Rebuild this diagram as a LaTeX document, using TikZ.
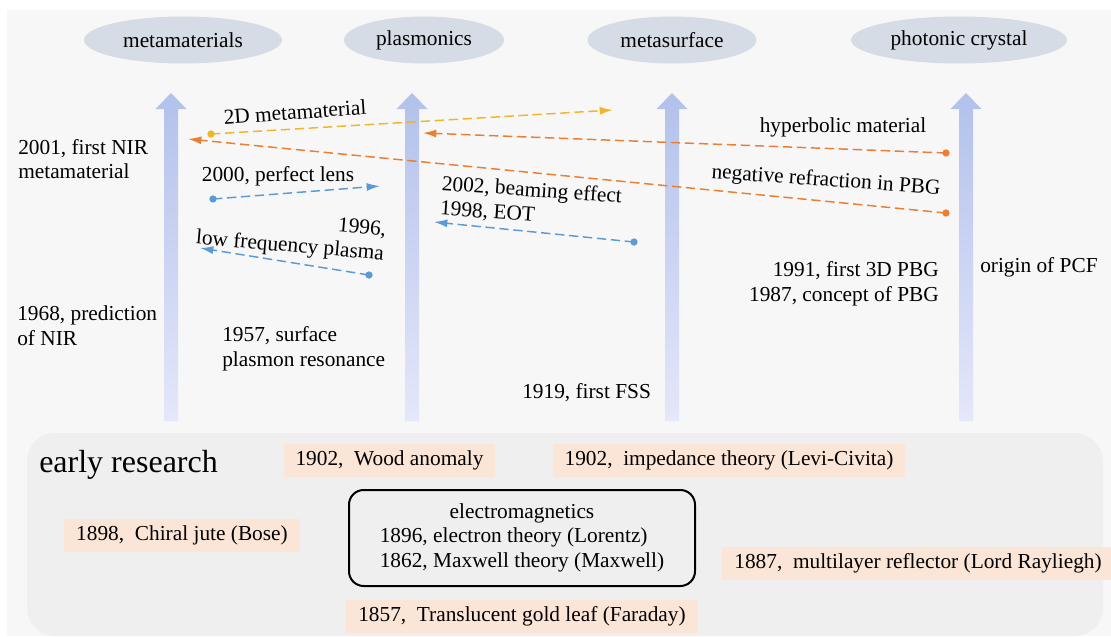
\documentclass[tikz,border=0pt]{standalone}
\usepackage{fontspec}
\setmainfont{Liberation Serif}
\usepackage{tikz}
\usetikzlibrary{positioning}
\usetikzlibrary{arrows.meta}
\usetikzlibrary{shapes.geometric}

\definecolor{bgout}{RGB}{247,247,247}
\definecolor{panelbg}{RGB}{239,239,239}
\definecolor{fieldbg}{RGB}{214,220,229}
\definecolor{peach}{RGB}{251,229,214}
\definecolor{axtop}{RGB}{178,193,235}
\definecolor{axbot}{RGB}{229,231,250}
\definecolor{cgold}{RGB}{242,180,40}
\definecolor{corange}{RGB}{237,125,49}
\definecolor{cblue}{RGB}{91,155,213}

\begin{document}
\begin{tikzpicture}[x=0.75pt,y=-0.75pt]
\tikzstyle{every node}=[font=\fontsize{16}{18.5}\selectfont]
\tikzstyle{field}=[ellipse, fill=fieldbg, inner sep=0pt, minimum height=35.25pt]
\tikzstyle{event}=[inner sep=0pt, align=left]
\tikzstyle{early}=[fill=peach, inner xsep=9pt, inner ysep=0pt, minimum height=24.75pt]
\tikzstyle{dot}=[circle, inner sep=0pt, minimum size=5.5pt]
\tikzstyle{linkarr}=[dash pattern=on 7pt off 3.5pt, line width=1.1pt, -{Latex[length=10pt,width=6pt]}]
\useasboundingbox (0,0) rectangle (1111,636);
\fill[bgout] (7,10) rectangle (1111,636);
\fill[panelbg, rounded corners=21pt] (27,433) rectangle (1103,636);

% research fields
\node[field, minimum width=148.5pt] (metamat) at (183,40) {metamaterials};
\node[field, minimum width=120pt] (plasmon) at (424,40) {plasmonics};
\node[field, minimum width=126.75pt] (metasurf) at (672,40) {metasurface};
\node[field, minimum width=162pt] (phc) at (959,40) {photonic crystal};

% time axes
\foreach \ax in {171,412,672,966} {
  \shade[top color=axtop, bottom color=axbot] (\ax-7,421) -- (\ax-7,109) -- (\ax-15.5,109) -- (\ax,93)
    -- (\ax+15.5,109) -- (\ax+7,109) -- (\ax+7,421) -- cycle;
}

% events
\node[event, anchor=west] (nir01) at (18,159) {2001, first NIR\\metamaterial};
\node[event, anchor=west] (nir68) at (17,326) {1968, prediction\\of NIR};
\node[event, anchor=west] (spr) at (222,349) {1957, surface\\plasmon resonance};
\node[event, anchor=west] (fss) at (522,393) {1919, first FSS};
\node[event, anchor=east, align=right] (pbg) at (939,284) {1991, first 3D PBG\\1987, concept of PBG};
\node[event, anchor=west] (pcf) at (980,267) {origin of PCF};

% links between fields
\node[dot, fill=cgold] (s2d) at (211,134) {};
\coordinate (e2d) at (613,110);
\draw[linkarr, cgold] (s2d.center) -- (e2d);
\node[event, rotate=4] (l2d) at (295,112) {2D metamaterial};

\node[dot, fill=corange] (shyp) at (946,153) {};
\coordinate (ehyp) at (423,133);
\draw[linkarr, corange] (shyp.center) -- (ehyp);
\node[event] (lhyp) at (843,127) {hyperbolic material};

\node[dot, fill=corange] (sneg) at (946,213) {};
\coordinate (eneg) at (188,139);
\draw[linkarr, corange] (sneg.center) -- (eneg);
\node[event, rotate=-4] (lneg) at (826,181) {negative refraction in PBG};

\node[dot, fill=cblue] (slens) at (213,199) {};
\coordinate (elens) at (380,186);
\draw[linkarr, cblue] (slens.center) -- (elens);
\node[event] (llens) at (278,176) {2000, perfect lens};

\node[dot, fill=cblue] (seot) at (634,242) {};
\coordinate (eeot) at (434,222);
\draw[linkarr, cblue] (seot.center) -- (eeot);
\node[event, rotate=-4] (leot) at (531,203) {2002, beaming effect\\1998, EOT};

\node[dot, fill=cblue] (sfreq) at (369,275) {};
\coordinate (efreq) at (200,248);
\draw[linkarr, cblue] (sfreq.center) -- (efreq);
\node[event, rotate=-5, align=right] (lfreq) at (291,235) {1996,\\low frequency plasma};

% early research
\node[font=\fontsize{24}{28}\selectfont, inner sep=0pt, anchor=west] (early) at (39,465) {early research};
\node[early] (wood) at (389.5,460.5) {1902,~~Wood anomaly};
\node[early] (levi) at (729,460.5) {1902,~~impedance theory (Levi-Civita)};
\node[early] (bose) at (182,535) {1898,~~Chiral jute (Bose)};
\node[draw, rounded corners=11pt, line width=1.5pt, minimum width=259.5pt, minimum height=72pt] (em) at (522,538)
  {\begin{tabular}{@{}l@{}}\multicolumn{1}{@{}c@{}}{electromagnetics}\\1896, electron theory (Lorentz)\\1862, Maxwell theory (Maxwell)\end{tabular}};
\node[early] (rayl) at (918,563) {1887,~~multilayer reflector (Lord Rayliegh)};
\node[early, below=9.75pt of em] (fara) {1857,~~Translucent gold leaf (Faraday)};
\end{tikzpicture}
\end{document}
